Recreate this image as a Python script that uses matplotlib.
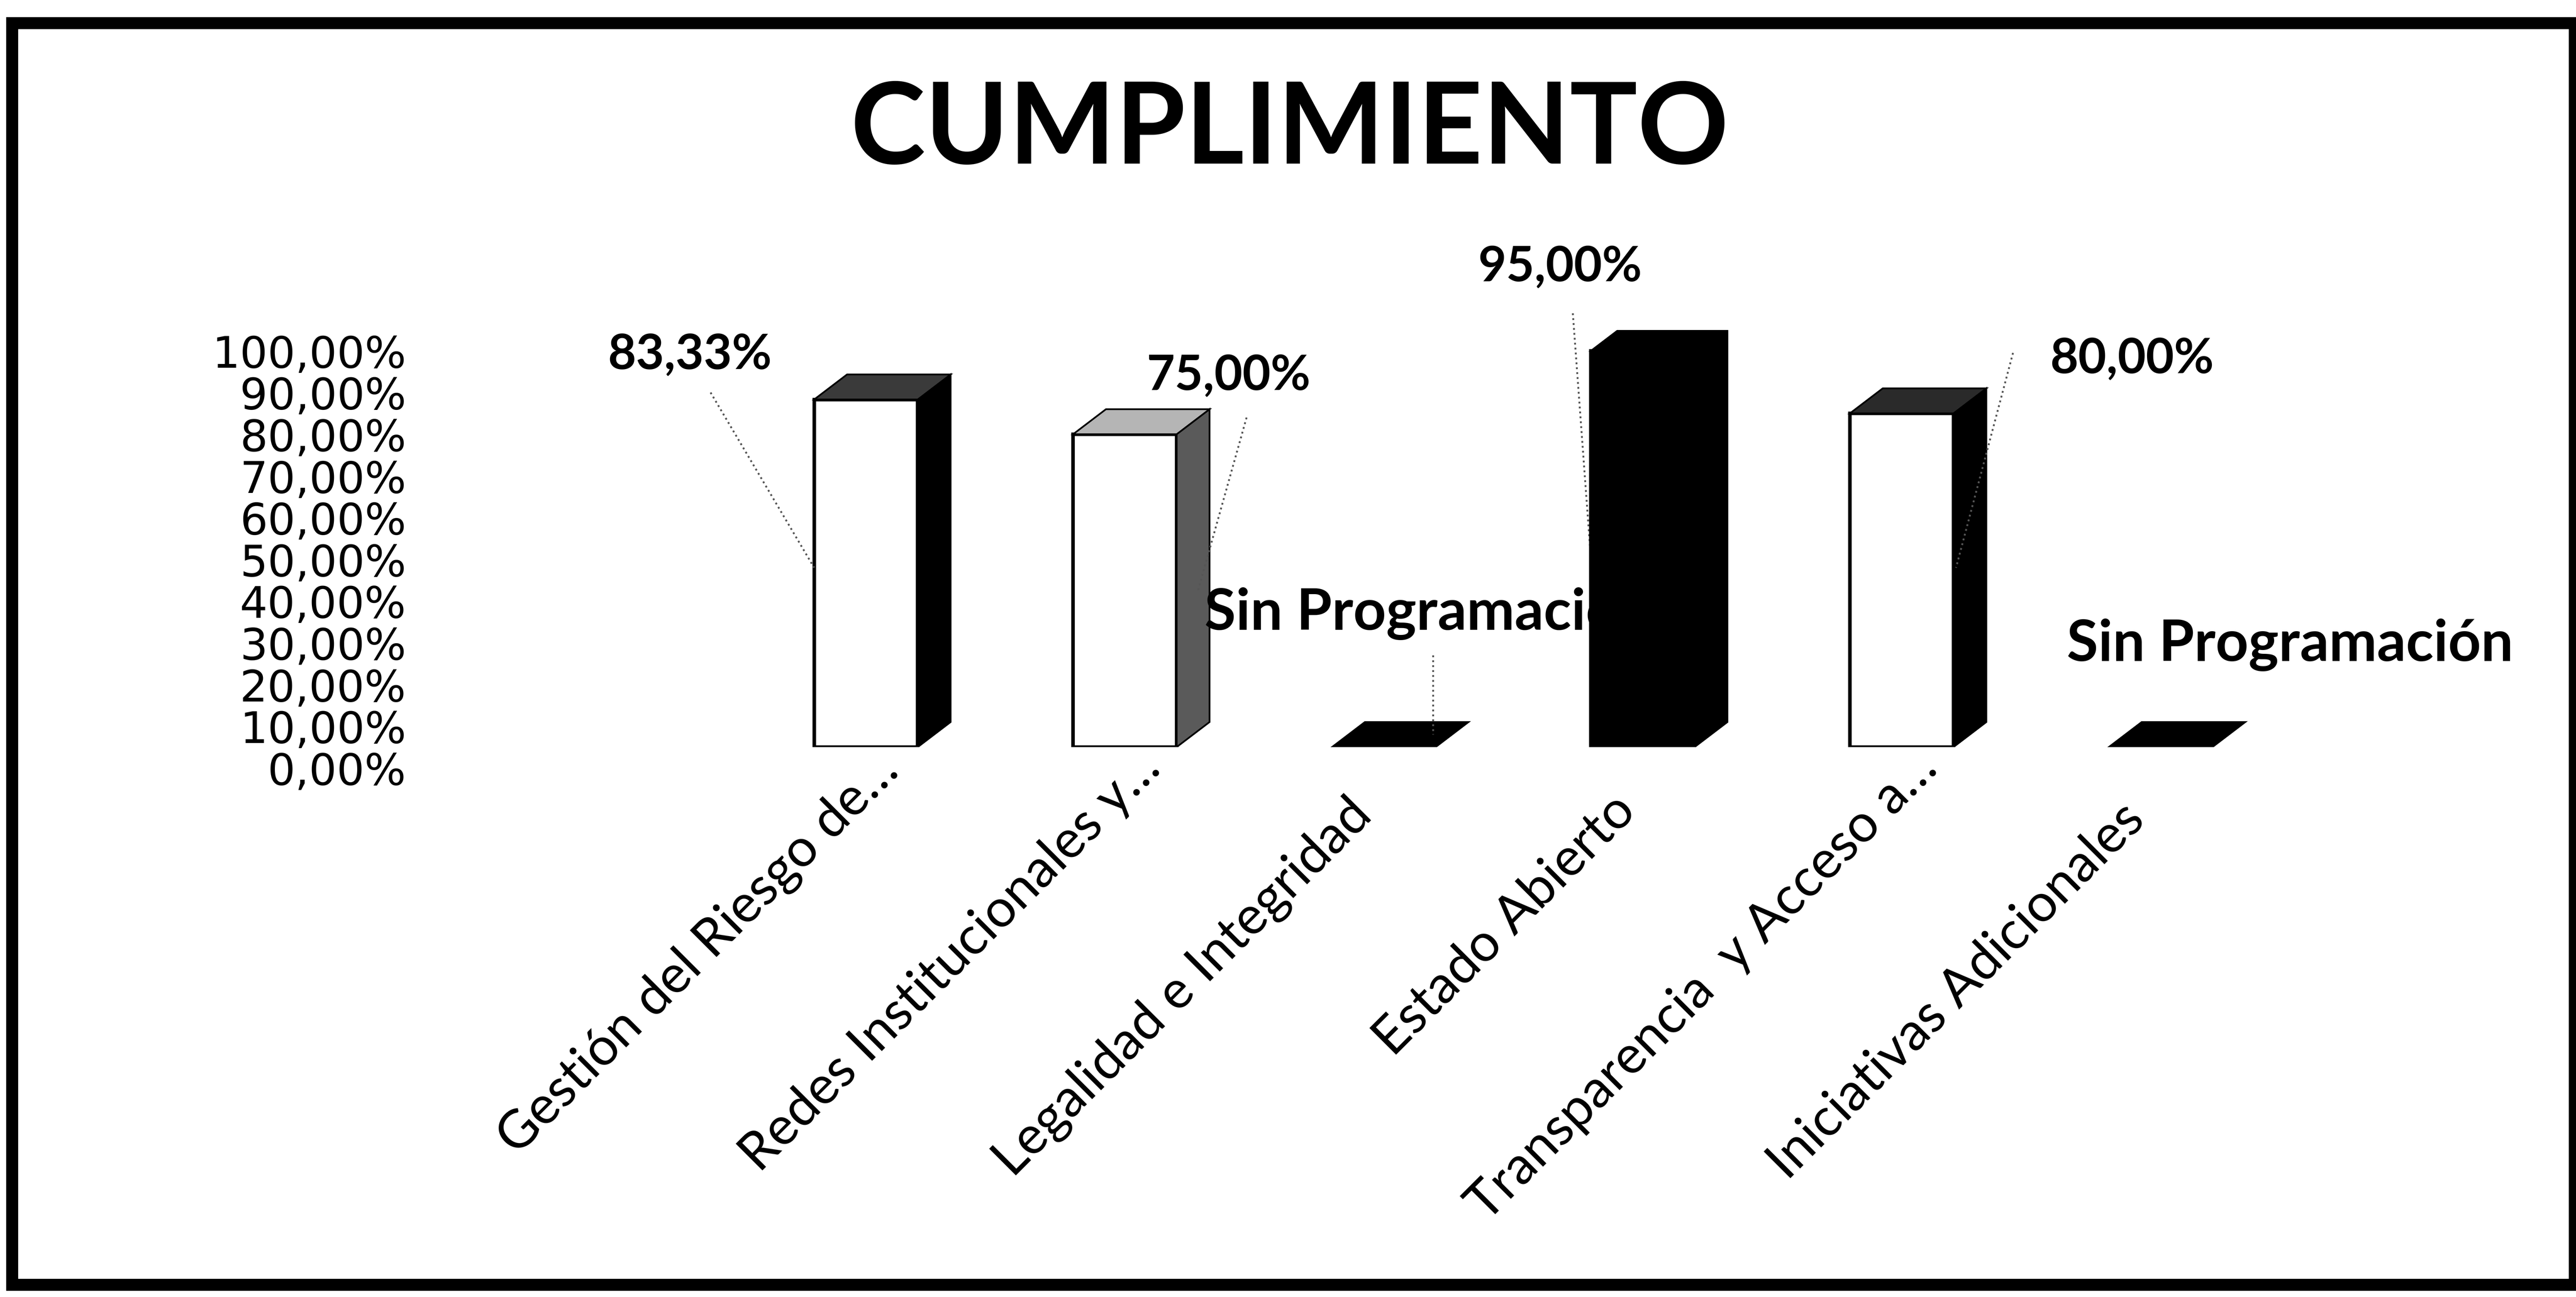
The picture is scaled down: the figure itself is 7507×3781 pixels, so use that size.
import numpy as np
import matplotlib
matplotlib.use("Agg")
import matplotlib.pyplot as plt
from matplotlib.patches import Polygon, Rectangle
from matplotlib.transforms import ScaledTranslation

plt.rcParams['font.family'] = ['Lato', 'DejaVu Sans']

# datos
categorias = ["Gestión del Riesgo de…", "Redes Institucionales y…", "Legalidad e Integridad",
              "Estado Abierto", "Transparencia  y Acceso a…", "Iniciativas Adicionales"]
cumplimiento = [0.8333, 0.75, 0.0, 0.95, 0.80, 0.0]
ticks_y = [0.0, 0.1, 0.2, 0.3, 0.4, 0.5, 0.6, 0.7, 0.8, 0.9, 1.0]

# posiciones de etiquetas (x, y en datos) y de las lineas guia
pos_etiquetas = [(-0.68, 0.94), (1.40, 0.89), (2.17, 0.32), (2.68, 1.15), (4.89, 0.93), (5.50, 0.245)]
guias = [((-0.60, 0.85), (-0.20, 0.43)), ((1.47, 0.79), (1.28, 0.37)), ((2.19, 0.22), (2.19, 0.03)),
         ((2.73, 1.04), (2.80, 0.45)), ((4.43, 0.945), (4.21, 0.43)), None]
# corrimiento diagonal de cada etiqueta del eje x (puntos)
ajuste_x = [17, 19, -14, -11, 19, -17]

# estilo de cada barra: frente, tapa, lateral
c_frente = ['white', 'white', 'black', 'black', 'white', 'black']
c_tapa = ['#3a3a3a', '#b5b5b5', 'black', 'black', '#2a2a2a', 'black']
c_lado = ['black', '#5a5a5a', 'black', 'black', 'black', 'black']

W, H = 7507, 3781
fig = plt.figure(figsize=(W / 300, H / 300), dpi=300)
ax = fig.add_axes([0.2859, 0.4240, 0.6031, 0.3216])
ax.set_xlim(-0.5, 5.5)
ax.set_ylim(0, 1.0)
ax.set_facecolor('none')

ancho = 0.40
dx, dy = 0.127, 0.06
x = np.arange(len(categorias))

for i, v in enumerate(cumplimiento):
    z = 5 if i == 3 else 3
    l, r = x[i] - ancho / 2, x[i] + ancho / 2
    if v > 0:
        ax.bar(x[i], v, width=ancho, color=c_frente[i], edgecolor='black', linewidth=2.5, zorder=z)
        lado = [(r, 0), (r + dx, dy), (r + dx, v + dy), (r, v)]
        ax.add_patch(Polygon(lado, closed=True, facecolor=c_lado[i], edgecolor='black', lw=1.2, zorder=z))
    tapa = [(l, v), (l + dx, v + dy), (r + dx, v + dy), (r, v)]
    ax.add_patch(Polygon(tapa, closed=True, facecolor=c_tapa[i], edgecolor='black', lw=1.2, zorder=z))

# etiquetas de datos
for i, v in enumerate(cumplimiento):
    if v > 0:
        txt, fs = f"{v * 100:.2f}".replace('.', ',') + '%', 34
    else:
        txt, fs = "Sin Programación", 40
    ax.text(pos_etiquetas[i][0], pos_etiquetas[i][1], txt, ha='center', va='center',
            fontsize=fs, fontweight='bold', zorder=4, clip_on=False)
    if guias[i] is not None:
        (x0, y0), (x1, y1) = guias[i]
        ax.plot([x0, x1], [y0, y1], ls=':', color='#555555', lw=1.3, zorder=4, clip_on=False)

# ejes
ax.set_xticks(x, categorias)
ax.tick_params(axis='x', length=0, pad=28)
for lab, d in zip(ax.get_xticklabels(), ajuste_x):
    lab.set_rotation(45)
    lab.set_ha('right')
    lab.set_va('center')
    lab.set_rotation_mode('anchor')
    lab.set_fontsize(37)
    lab.set_transform(lab.get_transform() + ScaledTranslation(d / 72, d / 72, fig.dpi_scale_trans))

ax.set_yticks(ticks_y, [f"{t * 100:.2f}".replace('.', ',') + '%' for t in ticks_y])
ax.tick_params(axis='y', length=0, pad=231)
desplazo = ScaledTranslation(0, -62 / 300, fig.dpi_scale_trans)
for lab in ax.get_yticklabels():
    lab.set_fontfamily('DejaVu Sans')
    lab.set_fontsize(30.5)
    lab.set_transform(lab.get_transform() + desplazo)

for s in ax.spines.values():
    s.set_visible(False)

fig.text(0.5006, 0.899, "CUMPLIMIENTO", ha='center', va='center', fontsize=79, fontweight='bold')

# marco
fig.add_artist(Rectangle((35 / W, 1 - 3745 / H), (7503 - 35) / W, (3745 - 67) / H,
                         transform=fig.transFigure, fill=False, edgecolor='black', lw=8.4))

fig.savefig("out.png", dpi=300, facecolor='white')
